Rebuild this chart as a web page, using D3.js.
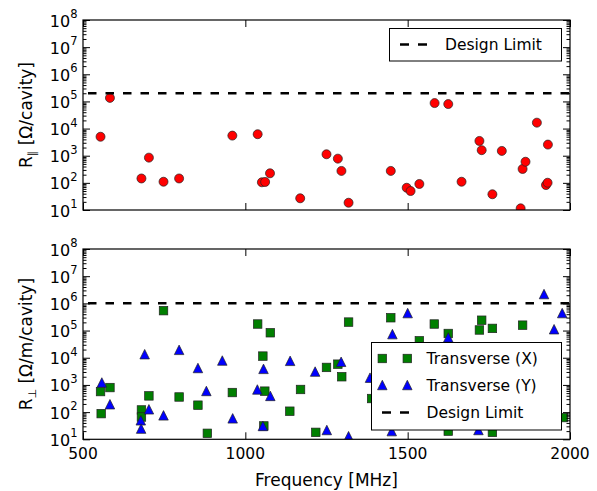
<!DOCTYPE html>
<html>
<head>
<meta charset="utf-8">
<script src="https://cdn.jsdelivr.net/npm/d3@7"></script>
<style>
  html, body { margin: 0; padding: 0; background: #fff; }
  svg { display: block; font-family: "DejaVu Sans", sans-serif; }
</style>
</head>
<body>
<svg id="chart" width="597" height="491"></svg>
<script>
// ---------------- DATA ----------------
const xTickValues = [500, 1000, 1500, 2000];
const yTickExponents = [1, 2, 3, 4, 5, 6, 7, 8];

// Longitudinal impedance (top panel)
const freqPar = [554, 583, 680, 703, 748, 796, 960, 1038, 1051, 1061, 1076, 1169, 1250, 1285, 1296, 1318, 1448,
                 1497, 1509, 1536, 1583, 1625, 1666, 1721, 1728, 1761, 1790, 1848, 1854, 1863, 1898, 1926, 1931, 1932];
const rPar    = [5000, 135000, 145, 850, 110, 145, 5500, 6200, 105, 108, 225, 27, 1130, 780, 275, 18.5, 275,
                 66, 50, 91, 87000, 80000, 110, 3500, 1600, 38, 1500, 11.5, 325, 600, 16500, 83, 101, 2570];
const limitPar = 2e5;

// Transverse impedance (bottom panel)
const freqTX = [554, 556, 583, 680, 680, 703, 748, 796, 854, 883, 960, 1038, 1054, 1060, 1057, 1077, 1137, 1170,
                1217, 1250, 1285, 1297, 1318, 1389, 1448, 1536, 1582, 1625, 1625, 1721, 1728, 1761, 1761, 1854, 1979];
const rTX    = [570, 88, 800, 120, 66, 395, 540000, 360, 180, 16.6, 525, 174000, 11500, 590, 31, 83000, 108, 680,
                18, 4400, 5800, 2000, 205000, 316, 296000, 42000, 174000, 78000, 20, 105000, 240000, 120000, 18, 158000, 63];
const freqTY = [558, 583, 678, 679, 690, 703, 748, 796, 854, 880, 929, 961, 1037, 1054, 1056, 1077, 1138, 1215,
                1251, 1295, 1318, 1384, 1451, 1453, 1500, 1625, 1718, 1920, 1951, 1976];
const rTY    = [1230, 195, 50, 24.7, 13500, 127, 76, 19500, 4200, 600, 7900, 59, 680, 31, 3900, 395, 7700, 3100,
                22, 7100, 13, 1850, 20, 74000, 440000, 56000, 22, 2200000, 112000, 440000];
const limitPerp = 1e6;

const legendTop = ["Design Limit"];
const legendBottom = ["Transverse (X)", "Transverse (Y)", "Design Limit"];

// ---------------- LAYOUT ----------------
const svg = d3.select("#chart");
const L = 83, R = 570;
const panels = [
  { top: 20, bottom: 210, id: "p1" },
  { top: 249, bottom: 439.3, id: "p2" }
];
const x = d3.scaleLinear().domain([500, 2000]).range([L, R]);
const RED = "#ff0000", GREEN = "#007f00", BLUE = "#0000ff";
const DASH = "8.5,9";

function makeY(p) {
  return d3.scaleLog().domain([10, 1e8]).range([p.bottom, p.top]);
}

function drawFrame(p, y, showXLabels) {
  const g = svg.append("g");
  // minor y ticks
  const minor = [];
  for (let e = 1; e < 8; e++) for (let m = 2; m <= 9; m++) minor.push(m * Math.pow(10, e));
  const axL = d3.axisLeft(y).tickValues(minor).tickSize(-3.5).tickFormat("");
  const axR = d3.axisRight(y).tickValues(minor).tickSize(-3.5).tickFormat("");
  const gl = g.append("g").attr("transform", `translate(${L},0)`).call(axL);
  const gr = g.append("g").attr("transform", `translate(${R},0)`).call(axR);
  // major y ticks
  const majors = yTickExponents.map(e => Math.pow(10, e));
  const axLM = d3.axisLeft(y).tickValues(majors).tickSize(-7).tickFormat("");
  const axRM = d3.axisRight(y).tickValues(majors).tickSize(-7).tickFormat("");
  g.append("g").attr("transform", `translate(${L},0)`).call(axLM);
  g.append("g").attr("transform", `translate(${R},0)`).call(axRM);
  // x ticks
  const axB = d3.axisBottom(x).tickValues(xTickValues).tickSize(-7).tickFormat("");
  const axT = d3.axisTop(x).tickValues(xTickValues).tickSize(-7).tickFormat("");
  g.append("g").attr("transform", `translate(0,${p.bottom})`).call(axB);
  g.append("g").attr("transform", `translate(0,${p.top})`).call(axT);
  g.selectAll(".domain").remove();
  g.selectAll(".tick line").attr("stroke", "#000").attr("stroke-width", 1);
  // frame
  g.append("rect").attr("x", L).attr("y", p.top).attr("width", R - L).attr("height", p.bottom - p.top)
    .attr("fill", "none").attr("stroke", "#000").attr("stroke-width", 1.2);
  // y tick labels
  yTickExponents.forEach(e => {
    const yy = y(Math.pow(10, e));
    const t = g.append("text").attr("x", 77.5).attr("y", yy + 6.5).attr("text-anchor", "end")
      .attr("font-size", 16).attr("fill", "#000");
    t.append("tspan").text("10");
    t.append("tspan").attr("font-size", 11.5).attr("dy", -8.5).text(String(e));
  });
  if (showXLabels) {
    xTickValues.forEach(v => {
      g.append("text").attr("x", x(v)).attr("y", p.bottom + 20).attr("text-anchor", "middle")
        .attr("font-size", 15.5).attr("fill", "#000").text(String(v));
    });
  }
}

function clip(p) {
  svg.append("clipPath").attr("id", "clip-" + p.id).append("rect")
    .attr("x", L).attr("y", p.top).attr("width", R - L).attr("height", p.bottom - p.top);
  return svg.append("g").attr("clip-path", `url(#clip-${p.id})`);
}

const triPath = d3.symbol().type(() => null);
function triangle(s) { // width s, height s, centered
  const h = s / 2;
  return `M0,${-h}L${h},${h}L${-h},${h}Z`;
}

// ---------------- TOP PANEL ----------------
{
  const p = panels[0];
  const y = makeY(p);
  const g = clip(p);
  g.selectAll("circle.par").data(freqPar.map((f, i) => [f, rPar[i]])).enter().append("circle")
    .attr("cx", d => x(d[0])).attr("cy", d => y(d[1])).attr("r", 4.5)
    .attr("fill", RED).attr("stroke", "#222").attr("stroke-width", 0.7);
  g.append("line").attr("x1", L).attr("x2", R).attr("y1", y(limitPar)).attr("y2", y(limitPar))
    .attr("stroke", "#000").attr("stroke-width", 2.5).attr("stroke-dasharray", DASH).attr("stroke-dashoffset", 12.5);
  drawFrame(p, y, false);
  // legend
  const lg = svg.append("g");
  lg.append("rect").attr("x", 389.5).attr("y", 28.5).attr("width", 172).attr("height", 32.5)
    .attr("fill", "#fff").attr("stroke", "#000").attr("stroke-width", 1);
  lg.append("line").attr("x1", 400).attr("x2", 427).attr("y1", 44.5).attr("y2", 44.5)
    .attr("stroke", "#000").attr("stroke-width", 2.5).attr("stroke-dasharray", "9,9");
  lg.append("text").attr("x", 445).attr("y", 50).attr("font-size", 15.5).attr("fill", "#000").text(legendTop[0]);
  // y label
  const t = svg.append("text").attr("transform", `translate(32,${(p.top + p.bottom) / 2}) rotate(-90)`)
    .attr("text-anchor", "middle").attr("font-size", 17).attr("fill", "#000");
  t.append("tspan").text("R");
  t.append("tspan").attr("font-size", 11).attr("dy", 4).text("\u2225");
  t.append("tspan").attr("dy", -4).text(" [\u03A9/cavity]");
}

// ---------------- BOTTOM PANEL ----------------
{
  const p = panels[1];
  const y = makeY(p);
  const g = clip(p);
  const sq = 8.5;
  g.selectAll("rect.tx").data(freqTX.map((f, i) => [f, rTX[i]])).enter().append("rect")
    .attr("x", d => x(d[0]) - sq / 2).attr("y", d => y(d[1]) - sq / 2).attr("width", sq).attr("height", sq)
    .attr("fill", GREEN).attr("stroke", "#222").attr("stroke-width", 0.7);
  g.selectAll("path.ty").data(freqTY.map((f, i) => [f, rTY[i]])).enter().append("path")
    .attr("d", triangle(9.5)).attr("transform", d => `translate(${x(d[0])},${y(d[1])})`)
    .attr("fill", BLUE).attr("stroke", "#222").attr("stroke-width", 0.7);
  g.append("line").attr("x1", L).attr("x2", R).attr("y1", y(limitPerp)).attr("y2", y(limitPerp))
    .attr("stroke", "#000").attr("stroke-width", 2.5).attr("stroke-dasharray", DASH).attr("stroke-dashoffset", 12.5);
  drawFrame(p, y, true);
  // legend
  const lg = svg.append("g");
  lg.append("rect").attr("x", 371.5).attr("y", 342.5).attr("width", 190).attr("height", 87.5)
    .attr("fill", "#fff").attr("stroke", "#000").attr("stroke-width", 1);
  const rows = [358.5, 385, 412.5];
  [382.3, 407.3].forEach(cx => {
    lg.append("rect").attr("x", cx - sq / 2).attr("y", rows[0] - sq / 2).attr("width", sq).attr("height", sq)
      .attr("fill", GREEN).attr("stroke", "#222").attr("stroke-width", 0.7);
    lg.append("path").attr("d", triangle(9.5)).attr("transform", `translate(${cx},${rows[1]})`)
      .attr("fill", BLUE).attr("stroke", "#222").attr("stroke-width", 0.7);
  });
  lg.append("line").attr("x1", 382).attr("x2", 409).attr("y1", rows[2]).attr("y2", rows[2])
    .attr("stroke", "#000").attr("stroke-width", 2.5).attr("stroke-dasharray", "9,9");
  legendBottom.forEach((s, i) => {
    lg.append("text").attr("x", 426.5).attr("y", rows[i] + 5.5).attr("font-size", 15.5).attr("fill", "#000").text(s);
  });
  // y label
  const t = svg.append("text").attr("transform", `translate(32,${(p.top + p.bottom) / 2}) rotate(-90)`)
    .attr("text-anchor", "middle").attr("font-size", 17).attr("fill", "#000");
  t.append("tspan").text("R");
  t.append("tspan").attr("font-size", 11).attr("dy", 4).text("\u22A5");
  t.append("tspan").attr("dy", -4).text(" [\u03A9/m/cavity]");
  // x label
  svg.append("text").attr("x", (L + R) / 2).attr("y", 485.5).attr("text-anchor", "middle")
    .attr("font-size", 17).attr("fill", "#000").text("Frequency [MHz]");
}
</script>
</body>
</html>
